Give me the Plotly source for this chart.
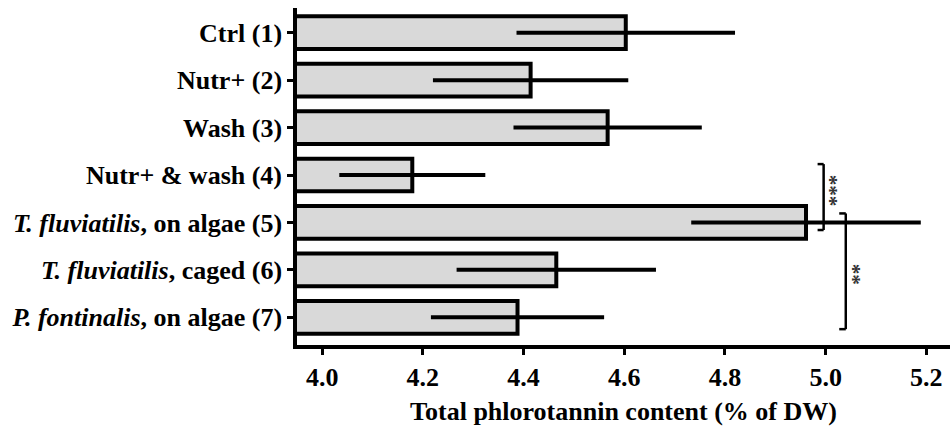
import plotly.graph_objects as go

# Treatment groups (top to bottom) and measured phlorotannin content
categories = [
    "Ctrl (1)",
    "Nutr+ (2)",
    "Wash (3)",
    "Nutr+ &amp; wash (4)",
    "<i>T. fluviatilis</i>, on algae (5)",
    "<i>T. fluviatilis</i>, caged (6)",
    "<i>P. fontinalis</i>, on algae (7)",
]
means = [4.603, 4.414, 4.567, 4.179, 4.961, 4.465, 4.388]
errors = [0.217, 0.194, 0.187, 0.145, 0.228, 0.198, 0.172]
x_ticks = [4.0, 4.2, 4.4, 4.6, 4.8, 5.0, 5.2]
x_tick_labels = ["4.0", "4.2", "4.4", "4.6", "4.8", "5.0", "5.2"]

FONT = "Liberation Serif"
idx = list(range(len(categories)))

fig = go.Figure()
fig.add_trace(go.Bar(
    y=idx,
    x=means,
    orientation="h",
    width=0.69,
    marker=dict(color="#d9d9d9", line=dict(color="black", width=4)),
    error_x=dict(type="data", array=errors, visible=True,
                 color="black", thickness=4, width=0),
    showlegend=False,
    hoverinfo="x+y",
))

# Significance brackets between groups 4–5 and 5–7
def bracket(x_tail, x_bar, y0, y1):
    for (xa, ya, xb, yb) in [(x_tail, y0, x_bar, y0),
                             (x_bar, y0, x_bar, y1),
                             (x_tail, y1, x_bar, y1)]:
        fig.add_shape(type="line", xref="x", yref="y",
                      x0=xa, y0=ya, x1=xb, y1=yb,
                      line=dict(color="black", width=2.5))

bracket(4.984, 4.996, 2.77, 4.16)
bracket(5.027, 5.040, 3.81, 6.25)

# Stacked asterisks: one rotated string per bracket
def stars(x, y, text):
    fig.add_annotation(x=x, y=y, xref="x", yref="y", text=text,
                       showarrow=False, textangle=90, xshift=-2,
                       font=dict(family=FONT, size=21, color="#333333"))

stars(5.0143, 3.327, "***")
stars(5.0586, 5.085, "**")

fig.update_layout(
    width=950, height=432,
    margin=dict(l=297, r=0, t=8, b=87),
    plot_bgcolor="white", paper_bgcolor="white",
    font=dict(family=FONT, size=26, color="black", weight="bold"),
    bargap=0.31,
)
fig.update_xaxes(
    range=[3.95, 5.247],
    tickvals=x_ticks, ticktext=x_tick_labels,
    showline=True, linecolor="black", linewidth=3.5,
    ticks="outside", ticklen=6, tickwidth=3, tickcolor="black",
    showgrid=False, zeroline=False,
    tickfont=dict(family=FONT, size=26, color="black", weight="bold"),
    title=dict(text="Total phlorotannin content (% of DW)", standoff=12,
               font=dict(family=FONT, size=26, color="black", weight="bold")),
)
fig.update_yaxes(
    range=[6.584, -0.521],
    tickvals=idx, ticktext=categories,
    showline=True, linecolor="black", linewidth=3.5,
    ticks="outside", ticklen=6, tickwidth=3, tickcolor="black",
    showgrid=False, zeroline=False,
    tickfont=dict(family=FONT, size=26, color="black", weight="bold"),
)

fig.write_html("out.html")
